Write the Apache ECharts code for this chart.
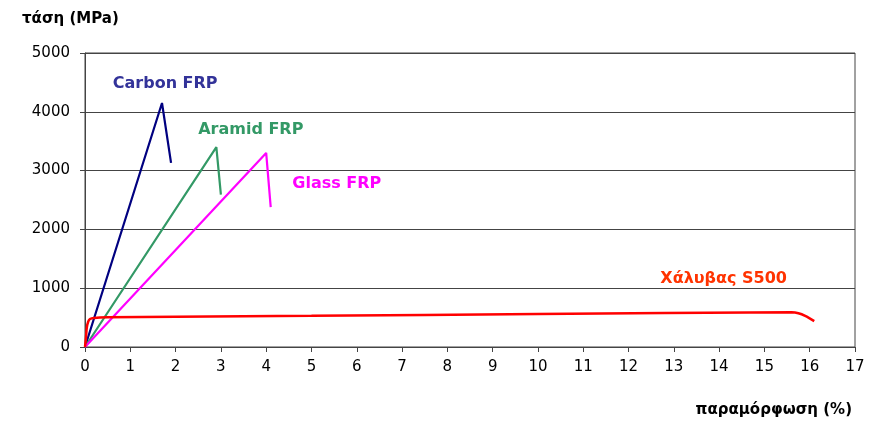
<!DOCTYPE html>
<html>
<head>
<meta charset="utf-8">
<script src="https://cdn.jsdelivr.net/npm/echarts@6/dist/echarts.min.js"></script>
<style>
  html, body { margin: 0; padding: 0; background: #fff; }
  #chart { width: 884px; height: 424px; }
</style>
</head>
<body>
<div id="chart"></div>
<script>
// strain (%) , stress (MPa)
const carbonFRP = [[0, 0], [1.7, 4150], [1.9, 3130]]
const aramidFRP = [[0, 0], [2.9, 3400], [3.0, 2590]]
const glassFRP = [[0, 0], [4.0, 3300], [4.1, 2380]]
const steelS500 = [[0, 0], [0.02, 150], [0.04, 330], [0.07, 430], [0.11, 475], [0.2, 495], [0.5, 505],
  [5, 530], [10, 560], [15.6, 590], [15.75, 575], [15.9, 530], [16.1, 440]]

const seriesNames = ['Carbon FRP', 'Aramid FRP', 'Glass FRP', 'Χάλυβας S500']
const lineColors = ['#000080', '#339966', '#FF00FF', '#FF0000']
const labelColors = ['#333399', '#339966', '#FF00FF', '#FF3300']
// where the curve names sit, in data units
const labelPos = [[1.77, 4470], [3.66, 3690], [5.56, 2770], [14.1, 1155]]

const xTicks = { min: 0, max: 17, interval: 1 }
const yTicks = { min: 0, max: 5000, interval: 1000 }

const chart = echarts.init(document.getElementById('chart'))
const font = 'DejaVu Sans, Arial, sans-serif'

const lines = [carbonFRP, aramidFRP, glassFRP, steelS500].map((d, i) => ({
  name: seriesNames[i],
  type: 'line',
  data: d,
  symbol: 'none',
  smooth: i === 3 ? 0.3 : false,
  lineStyle: { color: lineColors[i], width: i === 3 ? 2.5 : 2.2 },
  z: 3
}))

const labels = {
  type: 'scatter',
  symbolSize: 0,
  silent: true,
  itemStyle: { opacity: 1 },
  data: labelPos.map((p, i) => ({
    value: p,
    label: {
      show: true,
      position: 'inside',
      formatter: seriesNames[i],
      color: labelColors[i],
      fontFamily: font,
      fontWeight: 'bold',
      fontSize: 16
    }
  }))
}

chart.setOption({
  animation: false,
  grid: { left: 85, right: 29, top: 53, bottom: 77, show: true, borderColor: '#444', borderWidth: 1 },
  xAxis: {
    type: 'value',
    min: xTicks.min, max: xTicks.max, interval: xTicks.interval,
    name: 'παραμόρφωση (%)',
    nameLocation: 'end',
    nameGap: 0,
    nameTextStyle: {
      fontFamily: font, fontWeight: 'bold', fontSize: 15, color: '#000',
      align: 'right', verticalAlign: 'top', padding: [56, 3, 0, 0]
    },
    axisLine: { lineStyle: { color: '#444', width: 1 } },
    axisTick: { show: true, length: 5, lineStyle: { color: '#444' } },
    axisLabel: { fontFamily: font, fontSize: 15, color: '#000', margin: 13 },
    splitLine: { show: false }
  },
  yAxis: {
    type: 'value',
    min: yTicks.min, max: yTicks.max, interval: yTicks.interval,
    name: 'τάση (MPa)',
    nameLocation: 'end',
    nameGap: 26,
    nameTextStyle: {
      fontFamily: font, fontWeight: 'bold', fontSize: 15, color: '#000',
      align: 'left', padding: [0, 0, 0, -63]
    },
    axisLine: { show: true, lineStyle: { color: '#444', width: 1 } },
    axisTick: { show: true, length: 5, lineStyle: { color: '#444' } },
    axisLabel: { fontFamily: font, fontSize: 15, color: '#000', margin: 15, formatter: v => String(v) },
    splitLine: { show: true, lineStyle: { color: '#444', width: 1 } }
  },
  series: [...lines, labels]
})
</script>
</body>
</html>
